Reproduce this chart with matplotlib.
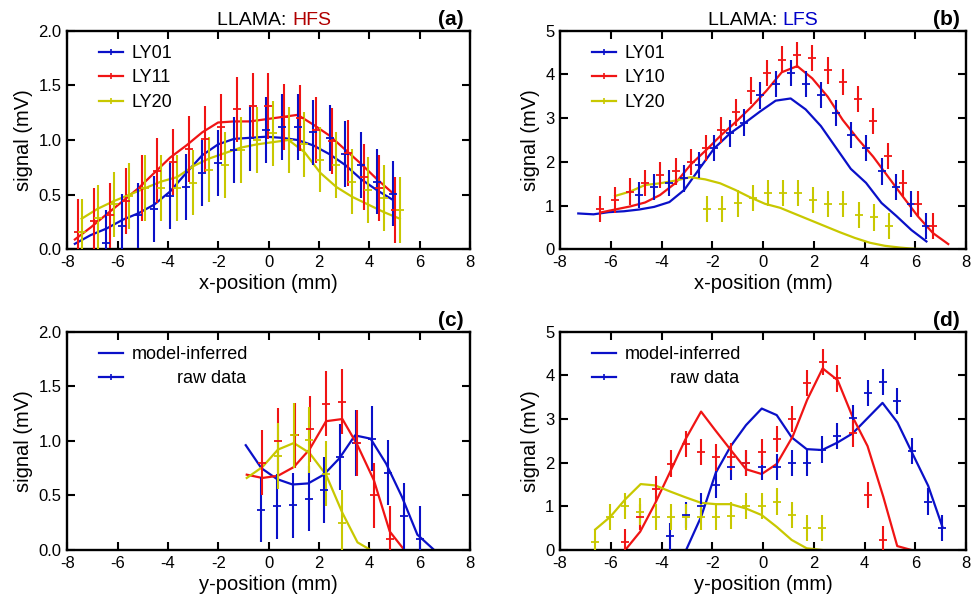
import matplotlib
matplotlib.use("Agg")
import matplotlib.pyplot as plt
from matplotlib.lines import Line2D

plt.rcParams['font.family'] = ['Liberation Sans', 'DejaVu Sans']
plt.rcParams['axes.unicode_minus'] = False

BLUE = '#0a10c8'
RED = '#f01414'
YEL = '#c8c800'

# ---- (a) LLAMA HFS, x scan ----
a_model_x = [-7.70, -7.07, -6.44, -5.80, -5.17, -4.54, -3.91, -3.27, -2.64, -2.01, -1.38,
             -0.75, -0.11, 0.52, 1.15, 1.78, 2.42, 3.05, 3.68, 4.31, 4.95]
a_blue_model = [0.05, 0.13, 0.19, 0.27, 0.33, 0.41, 0.53, 0.70, 0.86, 0.96, 1.01,
                1.02, 1.03, 1.02, 1.00, 0.95, 0.87, 0.77, 0.64, 0.54, 0.45]
a_red_model = [0.09, 0.20, 0.32, 0.44, 0.56, 0.70, 0.84, 0.95, 1.07, 1.16, 1.17,
               1.17, 1.19, 1.21, 1.23, 1.14, 1.04, 0.91, 0.78, 0.64, 0.51]
a_yel_x = [-7.43, -6.80, -6.16, -5.53, -4.90, -4.27, -3.64, -3.00, -2.37, -1.74, -1.11,
           -0.47, 0.16, 0.79, 1.42, 2.05, 2.69, 3.32, 3.95, 4.58, 5.21]
a_yel_model = [0.28, 0.37, 0.44, 0.50, 0.56, 0.62, 0.66, 0.76, 0.83, 0.88, 0.93,
               0.96, 0.98, 1.00, 0.89, 0.70, 0.57, 0.48, 0.41, 0.34, 0.28]
a_yel_data = [0.16, 0.29, 0.41, 0.49, 0.56, 0.56, 0.56, 0.61, 0.73, 0.77, 0.91,
              1.00, 1.06, 1.00, 0.96, 0.82, 0.77, 0.62, 0.54, 0.47, 0.36]
a_red_x = [-7.57, -6.94, -6.31, -5.68, -5.05, -4.42, -3.79, -3.16, -2.53, -1.90, -1.27,
           -0.64, -0.01, 0.62, 1.25, 1.88, 2.51, 3.14, 3.77, 4.40, 5.03]
a_red_data = [0.16, 0.26, 0.31, 0.44, 0.56, 0.72, 0.80, 0.92, 1.01, 1.12, 1.28,
              1.31, 1.31, 1.21, 1.20, 1.09, 0.99, 0.88, 0.66, 0.56, 0.36]
a_blue_x = [-6.45, -5.82, -5.18, -4.55, -3.92, -3.28, -2.65, -2.02, -1.38, -0.75,
            -0.12, 0.52, 1.15, 1.78, 2.42, 3.05, 3.68, 4.32, 4.95]
a_blue_data = [0.06, 0.21, 0.31, 0.37, 0.49, 0.57, 0.70, 0.79, 0.91, 1.02,
               1.09, 1.12, 1.12, 1.07, 1.02, 0.87, 0.77, 0.62, 0.51]

# ---- (b) LLAMA LFS, x scan ----
b_blue_model_x = [-7.28, -6.68, -6.08, -5.48, -4.88, -4.29, -3.69, -3.10, -2.51, -1.92, -1.30, -0.74,
                  -0.12, 0.50, 1.09, 1.68, 2.28, 2.87, 3.46, 4.06, 4.67, 5.26, 5.85, 6.44]
b_blue_model = [0.82, 0.80, 0.85, 0.87, 0.91, 0.97, 1.08, 1.36, 1.84, 2.31, 2.65, 2.88,
                3.15, 3.40, 3.45, 3.20, 2.82, 2.33, 1.84, 1.52, 1.06, 0.76, 0.44, 0.18]
b_blue_x = [-4.88, -4.29, -3.69, -3.10, -2.51, -1.92, -1.30, -0.74, -0.12, 0.50,
            1.09, 1.68, 2.28, 2.87, 3.46, 4.06, 4.67, 5.26, 5.85, 6.44]
b_blue_data = [1.24, 1.43, 1.52, 1.62, 1.93, 2.31, 2.65, 2.90, 3.52, 3.78,
               4.04, 3.78, 3.53, 3.12, 2.61, 2.31, 1.78, 1.43, 1.04, 0.53]
b_red_model_x = [-6.42, -5.83, -5.24, -4.65, -4.06, -3.44, -2.83, -2.24, -1.65, -1.06, -0.47, 0.14,
                 0.74, 1.35, 1.94, 2.55, 3.14, 3.73, 4.34, 4.93, 5.52, 6.11, 6.70, 7.30]
b_red_model = [0.84, 0.91, 0.98, 1.07, 1.24, 1.52, 1.95, 2.27, 2.61, 2.92, 3.25, 3.63,
               4.05, 4.19, 3.91, 3.49, 2.96, 2.53, 2.12, 1.66, 1.20, 0.75, 0.37, 0.12]
b_red_x = [-6.42, -5.83, -5.24, -4.65, -4.06, -3.44, -2.83, -2.24, -1.65, -1.06, -0.47, 0.14,
           0.74, 1.35, 1.94, 2.55, 3.14, 3.73, 4.34, 4.93, 5.52, 6.11, 6.70]
b_red_data = [0.92, 1.13, 1.32, 1.52, 1.70, 1.78, 2.00, 2.31, 2.73, 3.13, 3.63, 4.04,
              4.34, 4.44, 4.37, 4.09, 3.83, 3.43, 2.93, 2.13, 1.52, 1.03, 0.53]
b_yel_model_x = [-5.83, -5.24, -4.65, -4.06, -3.46, -2.87, -2.28, -1.69, -1.10, -0.51, 0.08,
                 0.67, 1.26, 1.85, 2.44, 3.03, 3.62, 4.21, 4.80, 5.39, 5.98, 6.57]
b_yel_model = [1.22, 1.32, 1.47, 1.51, 1.57, 1.65, 1.60, 1.51, 1.36, 1.19, 1.04,
               0.95, 0.81, 0.67, 0.53, 0.39, 0.26, 0.15, 0.08, 0.04, 0.01, 0.0]
b_yel_x = [-2.22, -1.60, -1.00, -0.41, 0.19, 0.77, 1.39, 1.98, 2.57, 3.16, 3.78, 4.37, 4.96]
b_yel_data = [0.92, 0.92, 1.05, 1.17, 1.28, 1.28, 1.28, 1.13, 1.04, 1.04, 0.79, 0.73, 0.53]

# ---- (c) HFS, y scan ----
c_blue_model_x = [-0.91, -0.29, 0.33, 0.95, 1.57, 2.19, 2.81, 3.43, 4.05, 4.67, 5.29, 5.91, 6.53]
c_blue_model = [0.96, 0.75, 0.65, 0.60, 0.61, 0.69, 0.84, 1.05, 1.02, 0.79, 0.49, 0.14, 0.01]
c_blue_x = [-0.31, 0.33, 0.97, 1.60, 2.21, 2.84, 3.47, 4.12, 4.75, 5.38, 6.00]
c_blue_data = [0.37, 0.40, 0.41, 0.47, 0.55, 0.85, 0.98, 1.02, 0.71, 0.31, 0.10]
c_red_model_x = [-0.87, -0.25, 0.37, 1.00, 1.62, 2.28, 2.93, 3.53, 4.18, 4.81, 5.39]
c_red_model = [0.69, 0.66, 0.68, 0.76, 0.92, 1.18, 1.20, 0.96, 0.64, 0.17, 0.0]
c_red_x = [-0.26, 0.37, 1.03, 1.65, 2.28, 2.91, 3.53, 4.18, 4.81]
c_red_data = [0.80, 1.00, 1.05, 1.11, 1.34, 1.36, 0.98, 0.50, 0.10]
c_yel_model_x = [-0.87, -0.25, 0.37, 1.00, 1.62, 2.28, 2.93, 3.53, 4.05]
c_yel_model = [0.66, 0.76, 0.92, 0.98, 0.89, 0.69, 0.34, 0.07, 0.0]
c_yel_x = [0.37, 1.00, 1.62, 2.28, 2.91]
c_yel_data = [0.86, 1.05, 1.01, 0.70, 0.25]

# ---- (d) LFS, y scan ----
d_red_model_x = [-5.43, -4.84, -4.25, -3.66, -3.07, -2.44, -1.89, -1.27, -0.67, -0.05,
                 0.54, 1.17, 1.74, 2.35, 2.94, 3.53, 4.12, 4.74, 5.29, 5.85]
d_red_model = [0.0, 0.42, 1.07, 1.79, 2.52, 3.17, 2.75, 2.29, 1.85, 1.74,
               1.97, 2.60, 3.44, 4.16, 3.89, 3.05, 2.38, 1.22, 0.09, 0.0]
d_red_x = [-5.43, -4.84, -4.23, -3.64, -3.04, -2.44, -1.86, -1.27, -0.67, -0.05,
           0.54, 1.13, 1.72, 2.35, 2.93, 3.53, 4.12, 4.71]
d_red_data = [0.19, 0.76, 1.39, 1.98, 2.43, 2.25, 2.12, 2.14, 2.00, 2.25,
              2.54, 3.00, 3.82, 4.31, 3.93, 2.67, 1.26, 0.24]
d_blue_model_x = [-3.03, -2.44, -1.86, -1.27, -0.67, -0.05, 0.54, 1.13, 1.72,
                  2.33, 2.93, 3.53, 4.12, 4.71, 5.30, 5.89, 6.51, 7.07]
d_blue_model = [0.0, 0.76, 1.77, 2.38, 2.86, 3.24, 3.09, 2.58, 2.31,
                2.29, 2.46, 2.67, 3.02, 3.37, 2.92, 2.21, 1.47, 0.53]
d_blue_x = [-3.66, -3.03, -2.44, -1.86, -1.27, -0.67, -0.05, 0.54, 1.13, 1.72,
            2.33, 2.93, 3.53, 4.12, 4.71, 5.30, 5.89, 6.51, 7.07]
d_blue_data = [0.31, 0.80, 1.00, 1.50, 1.91, 1.99, 1.91, 1.91, 2.00, 2.00,
               2.30, 2.61, 3.02, 3.60, 3.85, 3.41, 2.27, 1.11, 0.50]
d_yel_model_x = [-6.61, -6.02, -5.43, -4.82, -4.25, -3.66, -3.07, -2.44, -1.86, -1.27,
                 -0.67, -0.05, 0.54, 1.13, 1.72, 2.33]
d_yel_model = [0.47, 0.76, 1.16, 1.51, 1.48, 1.34, 1.21, 1.08, 1.05, 1.05,
               0.95, 0.80, 0.53, 0.23, 0.04, 0.0]
d_yel_x = [-6.61, -6.02, -5.43, -4.84, -4.23, -3.64, -3.04, -2.44, -1.86, -1.27,
           -0.67, -0.05, 0.54, 1.13, 1.72, 2.33]
d_yel_data = [0.19, 0.76, 1.00, 0.88, 0.76, 0.76, 0.76, 0.76, 0.76, 0.79,
              1.01, 1.01, 1.11, 0.81, 0.50, 0.50]

ERR = 0.3
xticks = [-8, -6, -4, -2, 0, 2, 4, 6, 8]

fig = plt.figure(figsize=(9.71, 6.07), dpi=100)
L1, R1 = 67.3 / 971, 470 / 971
L2, R2 = 560 / 971, 966 / 971
T1, B1 = 1 - 30.7 / 607, 1 - 249.3 / 607
T2, B2 = 1 - 331.7 / 607, 1 - 550 / 607
ax_a = fig.add_axes([L1, B1, R1 - L1, T1 - B1])
ax_b = fig.add_axes([L2, B1, R2 - L2, T1 - B1])
ax_c = fig.add_axes([L1, B2, R1 - L1, T2 - B2])
ax_d = fig.add_axes([L2, B2, R2 - L2, T2 - B2])


def draw(ax, series):
    for mx, my, dx, dy, col in series:
        ax.plot(mx, my, color=col, lw=1.6, zorder=2)
        ax.errorbar(dx, dy, yerr=ERR, fmt='_', color=col, ms=6, mew=1.3,
                    elinewidth=1.5, capsize=0, zorder=3)


draw(ax_a, [(a_model_x, a_blue_model, a_blue_x, a_blue_data, BLUE),
            (a_model_x, a_red_model, a_red_x, a_red_data, RED),
            (a_yel_x, a_yel_model, a_yel_x, a_yel_data, YEL)])
draw(ax_b, [(b_blue_model_x, b_blue_model, b_blue_x, b_blue_data, BLUE),
            (b_red_model_x, b_red_model, b_red_x, b_red_data, RED),
            (b_yel_model_x, b_yel_model, b_yel_x, b_yel_data, YEL)])
draw(ax_c, [(c_blue_model_x, c_blue_model, c_blue_x, c_blue_data, BLUE),
            (c_red_model_x, c_red_model, c_red_x, c_red_data, RED),
            (c_yel_model_x, c_yel_model, c_yel_x, c_yel_data, YEL)])
draw(ax_d, [(d_blue_model_x, d_blue_model, d_blue_x, d_blue_data, BLUE),
            (d_red_model_x, d_red_model, d_red_x, d_red_data, RED),
            (d_yel_model_x, d_yel_model, d_yel_x, d_yel_data, YEL)])

for ax, top, xl, lab in [(ax_a, 2, 'x-position (mm)', '(a)'), (ax_b, 5, 'x-position (mm)', '(b)'),
                         (ax_c, 2, 'y-position (mm)', '(c)'), (ax_d, 5, 'y-position (mm)', '(d)')]:
    ax.set_xlim(-8, 8)
    ax.set_ylim(0, top)
    ax.set_xticks(xticks)
    if top == 2:
        ax.set_yticks([0, 0.5, 1.0, 1.5, 2.0])
        ax.set_yticklabels(['0.0', '0.5', '1.0', '1.5', '2.0'])
    else:
        ax.set_yticks(range(6))
    ax.tick_params(direction='in', top=True, right=True, length=6, width=1.5,
                   labelsize=12, pad=4)
    for s in ax.spines.values():
        s.set_linewidth(1.7)
    ax.set_xlabel(xl, fontsize=14.5, labelpad=3)
    ax.set_ylabel('signal (mV)', fontsize=14.5, labelpad=4)
    ax.text(0.985, 1.025, lab, transform=ax.transAxes, ha='right', va='baseline',
            fontsize=15, fontweight='bold')

# titles with coloured site name
ax_a.text(0.558, 1.025, 'LLAMA: ', transform=ax_a.transAxes, ha='right', va='baseline', fontsize=14)
ax_a.text(0.558, 1.025, 'HFS', transform=ax_a.transAxes, ha='left', va='baseline', fontsize=14, color='#b00000')
ax_b.text(0.548, 1.025, 'LLAMA: ', transform=ax_b.transAxes, ha='right', va='baseline', fontsize=14)
ax_b.text(0.548, 1.025, 'LFS', transform=ax_b.transAxes, ha='left', va='baseline', fontsize=14, color='#0000c8')


def key(col, mk):
    return Line2D([], [], color=col, lw=1.6, marker=mk, ms=5, mew=1.2)


leg_kw = dict(loc='upper left', frameon=False, fontsize=13, handlelength=1.35,
              handletextpad=0.45, labelspacing=0.42, borderpad=0, borderaxespad=0, numpoints=1)
ax_a.legend([key(BLUE, '+'), key(RED, '+'), key(YEL, '+')], ['LY01', 'LY11', 'LY20'],
            bbox_to_anchor=(0.079, 0.935), **leg_kw)
ax_b.legend([key(BLUE, '+'), key(RED, '+'), key(YEL, '+')], ['LY01', 'LY10', 'LY20'],
            bbox_to_anchor=(0.079, 0.935), **leg_kw)
for ax in (ax_c, ax_d):
    ax.legend([key(BLUE, None), key(BLUE, '+')], ['model-inferred', '         raw data'],
              bbox_to_anchor=(0.079, 0.935), **leg_kw)

fig.savefig('out.png', dpi=100)
